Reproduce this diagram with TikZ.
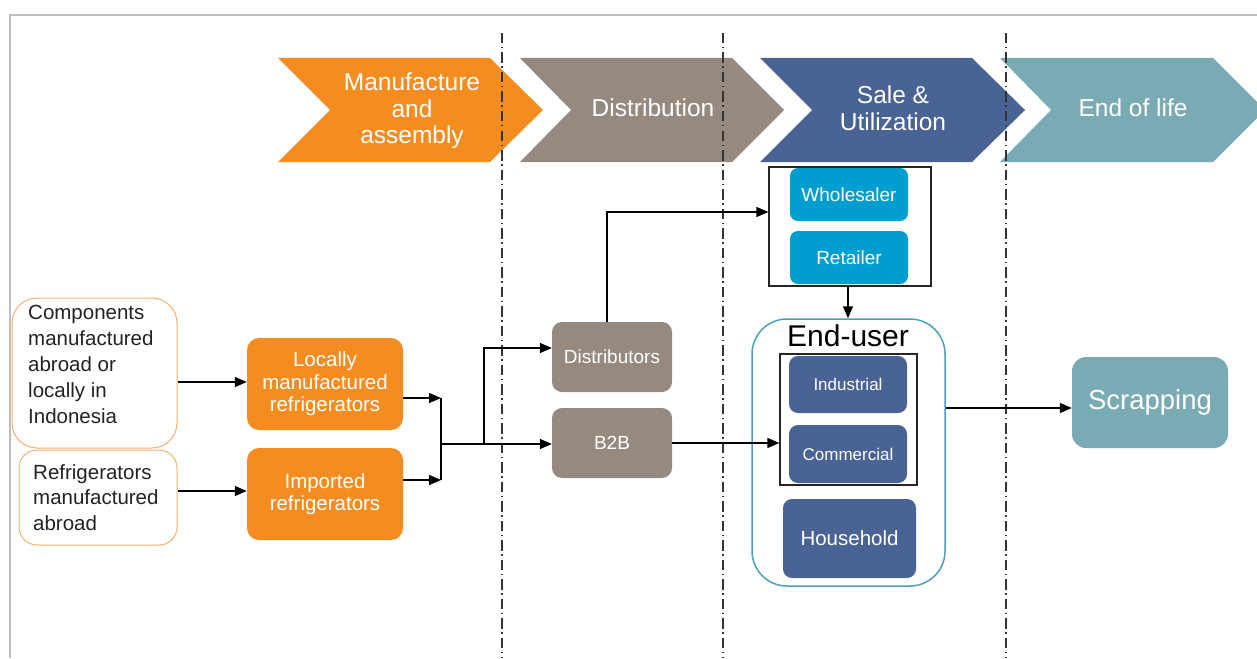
\documentclass[tikz,border=0pt]{standalone}
\usepackage{fontspec}
\setmainfont{Liberation Sans}
\usetikzlibrary{arrows.meta}
\definecolor{corange}{RGB}{245,140,32}
\definecolor{cbrown}{RGB}{150,138,128}
\definecolor{cblue}{RGB}{74,99,149}
\definecolor{cteal}{RGB}{122,171,180}
\definecolor{ccyan}{RGB}{0,158,206}
\definecolor{ceu}{RGB}{75,160,190}
\definecolor{clorange}{RGB}{248,175,110}
\definecolor{cframe}{RGB}{190,190,190}
\definecolor{ctext}{RGB}{35,35,35}
\begin{document}
\begin{tikzpicture}[x=1pt,y=-1pt,
  chevtext/.style={text=white,align=center,font=\fontsize{24.5}{26.5}\selectfont},
  lbox/.style={draw=clorange,line width=1pt,fill=white,inner sep=0pt},
  ltext/.style={text=ctext,align=left,font=\fontsize{20.5}{25.8}\selectfont,inner sep=0pt},
  obox/.style={fill=corange,rounded corners=12pt,text=white,align=center,inner sep=0pt,
    minimum width=156pt,minimum height=92pt,font=\fontsize{20.5}{22.5}\selectfont},
  gbox/.style={fill=cbrown,rounded corners=10pt,text=white,align=center,inner sep=0pt,
    minimum width=120pt,minimum height=70pt,font=\fontsize{19}{21}\selectfont},
  cbox/.style={fill=ccyan,rounded corners=8pt,text=white,align=center,inner sep=0pt,
    minimum width=118pt,minimum height=53pt,font=\fontsize{19}{21}\selectfont},
  bbox/.style={fill=cblue,rounded corners=9pt,text=white,align=center,inner sep=0pt,
    minimum width=118pt,font=\fontsize{17}{19}\selectfont},
  frame/.style={draw=black!85,line width=1.2pt,inner sep=0pt},
  arr/.style={-{Triangle[length=12pt,width=10pt]},line width=1.3pt,black},
  ln/.style={line width=1.3pt,black},
  dd/.style={dash pattern=on 10.5pt off 3.5pt on 1.5pt off 4pt,line width=1.3pt,black!80}
]
\useasboundingbox (0,0) rectangle (1257,658);
% frame
\draw[cframe,line width=2pt] (10,658) -- (10,15) -- (1257,15);
% chevrons
\fill[corange] (278,58) -- (490,58) -- (543,110) -- (490,162) -- (278,162) -- (330,110) -- cycle;
\fill[cbrown] (520,58) -- (732,58) -- (784,110) -- (732,162) -- (520,162) -- (571,110) -- cycle;
\fill[cblue] (760,58) -- (972,58) -- (1025,110) -- (972,162) -- (760,162) -- (812,110) -- cycle;
\fill[cteal] (1000,58) -- (1213,58) -- (1265,110) -- (1213,162) -- (1000,162) -- (1051,110) -- cycle;
\node[chevtext] (c1) at (412,111) {Manufacture\\and\\assembly};
\node[chevtext] (c2) at (653,108) {Distribution};
\node[chevtext] (c3) at (893,108) {Sale \&\\Utilization};
\node[chevtext] (c4) at (1133,108) {End of life};
% dash-dot separators
\draw[dd] (502,33) -- (502,658);
\draw[dd] (723,33) -- (723,658);
\draw[dd] (1006,33) -- (1006,658);
% left boxes
\node[lbox,rounded corners=25pt,minimum width=165pt,minimum height=150pt] (comp) at (94.5,373) {};
\node[ltext,anchor=west] (comptext) at (28,364.5) {Components\\manufactured\\abroad or\\locally in\\Indonesia};
\node[lbox,rounded corners=18pt,minimum width=158pt,minimum height=95pt] (ref) at (98,497.5) {};
\node[ltext,anchor=west] (reftext) at (33,497.5) {Refrigerators\\manufactured\\abroad};
% orange boxes
\node[obox] (loc) at (325,384) {Locally\\manufactured\\refrigerators};
\node[obox] (imp) at (325,494) {Imported\\refrigerators};
% distribution
\node[gbox] (dist) at (612,357) {Distributors};
\node[gbox] (b2b) at (612,443) {B2B};
% wholesaler/retailer
\node[frame,minimum width=162pt,minimum height=119pt] (wr) at (850,226.5) {};
\node[cbox] (whole) at (849,194.5) {Wholesaler};
\node[cbox] (ret) at (849,257.5) {Retailer};
% end user
\node[draw=ceu,line width=1.5pt,rounded corners=35pt,minimum width=193pt,minimum height=267pt,inner sep=0pt] (eu) at (848.5,452.5) {};
\node[font=\fontsize{30}{32}\selectfont,inner sep=0pt] (eut) at (848,336) {End-user};
\node[frame,minimum width=137pt,minimum height=131pt] (inner) at (848.5,419.5) {};
\node[bbox,minimum height=57pt] (ind) at (848,384.5) {Industrial};
\node[bbox,minimum height=58pt] (com) at (848,454) {Commercial};
\node[bbox,minimum width=133pt,minimum height=79pt,font=\fontsize{20.5}{22}\selectfont] (hh) at (849.5,538.5) {Household};
% scrapping
\node[fill=cteal,rounded corners=14pt,minimum width=156pt,minimum height=91pt,inner sep=0pt,text=white,font=\fontsize{27.5}{30}\selectfont] (scrap) at (1150,402.5) {Scrapping};
% connectors
\draw[arr] (comp.east |- 0,382) -- (loc.west |- 0,382);
\draw[arr] (ref.east |- 0,491) -- (imp.west |- 0,491);
\coordinate (j1) at (441,398);
\coordinate (j2) at (441,480);
\coordinate (jm) at (441,444);
\coordinate (jb) at (484,444);
\draw[arr] (loc.east |- j1) -- (j1);
\draw[arr] (imp.east |- j2) -- (j2);
\draw[ln] (j1) -- (j2);
\draw[arr] (jm) -- (jm -| b2b.west);
\draw[arr] (jb) |- (dist.west |- 0,348);
\draw[arr] ([xshift=-5pt]dist.north) |- ([yshift=14.5pt]wr.west);
\draw[arr] (wr.south -| 848,0) -- (eu.north -| 848,0);
\draw[arr] (b2b.east) -- (b2b.east -| inner.west);
\draw[arr] ([yshift=-5.5pt]scrap.west -| eu.east) -- ([yshift=-5.5pt]scrap.west);
\end{tikzpicture}
\end{document}
